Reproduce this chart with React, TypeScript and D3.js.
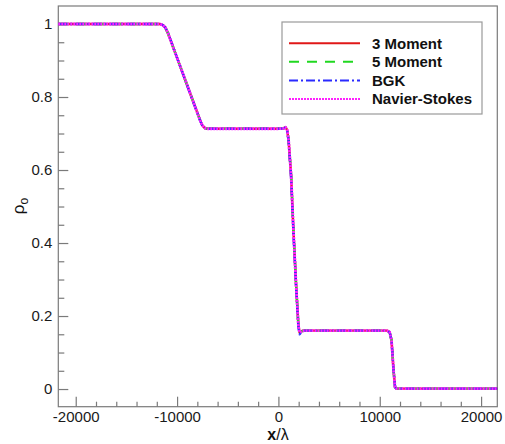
import React, { useEffect, useRef } from 'react';
import * as d3 from 'd3';

// x / lambda positions, shared by all four solutions
const xPos = [
  -21720, -11700, -11400, -11150, -10900, -7750, -7500, -7250, -7000, 0, 500, 700,
  860, 1005, 1250, 1480, 1745, 1970, 2090, 2340, 2600, 10720, 10970, 11160, 11360,
  11510, 11660, 21600,
];

const rho3 = [
  1, 1, 0.997, 0.99, 0.975, 0.738, 0.722, 0.715, 0.713, 0.713, 0.714, 0.717,
  0.71, 0.682, 0.586, 0.436, 0.285, 0.175, 0.155, 0.159, 0.16, 0.16, 0.156, 0.134,
  0.052, 0.005, 0.001, 0.001,
];
const rho5 = [
  1, 1, 0.997, 0.99, 0.975, 0.738, 0.722, 0.715, 0.713, 0.713, 0.714, 0.717,
  0.71, 0.682, 0.588, 0.437, 0.285, 0.176, 0.155, 0.159, 0.16, 0.16, 0.156, 0.134,
  0.052, 0.005, 0.001, 0.001,
];
const rhoBGK = [
  1, 1, 0.997, 0.99, 0.976, 0.737, 0.721, 0.715, 0.713, 0.713, 0.714, 0.716,
  0.708, 0.68, 0.58, 0.43, 0.28, 0.17, 0.15, 0.158, 0.16, 0.16, 0.156, 0.134,
  0.052, 0.005, 0.001, 0.001,
];
const rhoNS = [
  1, 1, 0.997, 0.99, 0.975, 0.738, 0.722, 0.715, 0.713, 0.713, 0.714, 0.717,
  0.71, 0.682, 0.586, 0.436, 0.285, 0.175, 0.155, 0.159, 0.16, 0.16, 0.156, 0.134,
  0.052, 0.005, 0.001, 0.001,
];

const seriesNames = ['3 Moment', '5 Moment', 'BGK', 'Navier-Stokes'];
const seriesValues = [rho3, rho5, rhoBGK, rhoNS];
const seriesColors = ['#e01818', '#20d820', '#2a2aff', '#ff20ff'];
const seriesDash = ['none', '10,8', '9,3,2,3', '2,1'];

const xMajor = [-20000, -10000, 0, 10000, 20000];
const yMajor = [0, 0.2, 0.4, 0.6, 0.8, 1];

function Chart() {
  const ref = useRef<SVGSVGElement>(null);

  useEffect(() => {
    const svg = d3.select(ref.current);
    svg.selectAll('*').remove();

    const left = 58.3, right = 497.3, top = 6, bottom = 406.7;
    const x = d3.scaleLinear().domain([-21720, 21600]).range([left, right]);
    const y = d3.scaleLinear().domain([-0.0484, 1.0493]).range([bottom, top]);
    const font = 'Liberation Sans, Arial, Helvetica, sans-serif';
    const axisColor = '#7a7a7a';

    // frame
    svg.append('rect')
      .attr('x', left).attr('y', top)
      .attr('width', right - left).attr('height', bottom - top)
      .attr('fill', 'white').attr('stroke', axisColor).attr('stroke-width', 1.2);

    // x axis, ticks pointing inward
    const xMinor = d3.range(-20000, 20001, 2000).filter(v => v % 10000 !== 0);
    const gxMinor = svg.append('g').attr('transform', `translate(0,${bottom})`)
      .call(d3.axisBottom(x).tickValues(xMinor).tickSize(-5).tickFormat(() => ''));
    const gx = svg.append('g').attr('transform', `translate(0,${bottom})`)
      .call(d3.axisBottom(x).tickValues(xMajor).tickSize(-10).tickPadding(5)
        .tickFormat(d => String(d)));

    const yMinor = d3.range(0, 1.001, 0.05).filter(v => Math.round(v * 100) % 20 !== 0);
    const gyMinor = svg.append('g').attr('transform', `translate(${left},0)`)
      .call(d3.axisLeft(y).tickValues(yMinor).tickSize(-6).tickFormat(() => ''));
    const gy = svg.append('g').attr('transform', `translate(${left},0)`)
      .call(d3.axisLeft(y).tickValues(yMajor).tickSize(-10).tickPadding(6)
        .tickFormat(d => String(d)));

    [gx, gy, gxMinor, gyMinor].forEach(g => {
      g.select('.domain').remove();
      g.selectAll('line').attr('stroke', axisColor).attr('stroke-width', 1.2);
      g.selectAll('text').attr('font-family', font).attr('font-size', 15).attr('fill', '#1a1a1a');
    });
    gx.selectAll('text').attr('dy', '0.71em');

    // curves
    seriesValues.forEach((vals, i) => {
      const line = d3.line<number>()
        .x((_, j) => x(xPos[j]))
        .y(d => y(d));
      svg.append('path')
        .attr('d', line(vals))
        .attr('fill', 'none')
        .attr('stroke', seriesColors[i])
        .attr('stroke-width', i === 3 ? 2.8 : 2.4)
        .attr('stroke-dasharray', seriesDash[i])
        .attr('stroke-linejoin', 'round');
    });

    // legend
    const lg = svg.append('g');
    lg.append('rect')
      .attr('x', 282).attr('y', 22).attr('width', 200).attr('height', 92)
      .attr('fill', 'white').attr('stroke', '#9a9a9a').attr('stroke-width', 1.2);
    const rowY = d3.scaleLinear().domain([0, 3]).range([43.3, 99]);
    seriesNames.forEach((name, i) => {
      lg.append('line')
        .attr('x1', 289).attr('x2', 360)
        .attr('y1', rowY(i)).attr('y2', rowY(i))
        .attr('stroke', seriesColors[i]).attr('stroke-width', 2)
        .attr('stroke-dasharray', seriesDash[i]);
      lg.append('text')
        .attr('x', 372).attr('y', rowY(i)).attr('dy', '0.36em')
        .attr('font-family', font).attr('font-size', 15).attr('font-weight', 'bold')
        .attr('fill', '#111')
        .text(name);
    });

    // axis titles
    const xt = svg.append('text')
      .attr('x', 278).attr('y', 440).attr('text-anchor', 'middle')
      .attr('font-family', font).attr('font-size', 16).attr('fill', '#111');
    xt.append('tspan').attr('font-weight', 'bold').text('x');
    xt.append('tspan').text('/λ');

    const yt = svg.append('text')
      .attr('transform', 'translate(24,206) rotate(-90)')
      .attr('text-anchor', 'middle')
      .attr('font-family', font).attr('font-size', 17).attr('fill', '#111');
    yt.append('tspan').text('ρ');
    yt.append('tspan').attr('font-size', 12).attr('dy', 4).text('o');
  }, []);

  return (
    <svg ref={ref} width={505} height={444}
      style={{ position: 'absolute', left: 0, top: 0, background: 'white' }} />
  );
}

export default function App() {
  return <Chart />;
}
